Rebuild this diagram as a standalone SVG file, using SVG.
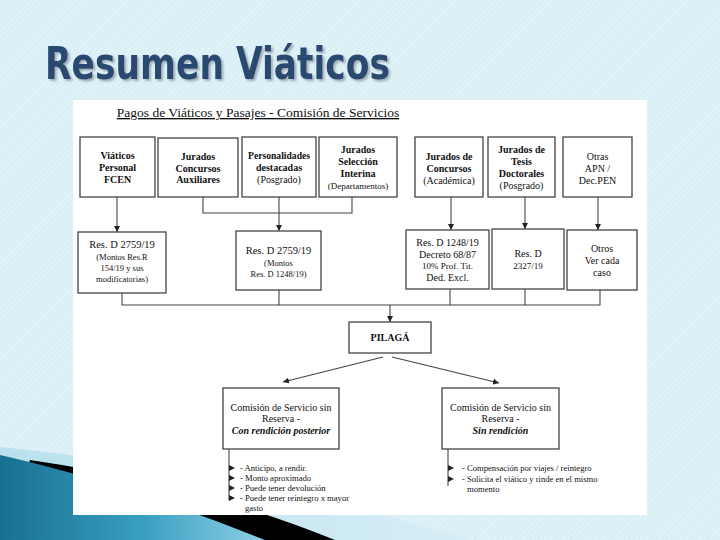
<svg xmlns="http://www.w3.org/2000/svg" width="720" height="540" viewBox="0 0 720 540">
<defs>
<pattern id="hatch" width="4" height="4" patternUnits="userSpaceOnUse" patternTransform="rotate(45)">
<rect width="4" height="4" fill="#def2f8"/>
<line x1="0" y1="0" x2="0" y2="4" stroke="#cfe9f2" stroke-width="1.2"/>
</pattern>
<linearGradient id="teal" x1="0" y1="0" x2="1" y2="0">
<stop offset="0" stop-color="#17708f"/>
<stop offset="0.55" stop-color="#3aa0c2"/>
<stop offset="1" stop-color="#8fd0e6"/>
</linearGradient>
<linearGradient id="pale" x1="0" y1="0" x2="1" y2="0">
<stop offset="0" stop-color="#b9e1ee"/>
<stop offset="1" stop-color="#d6eef6"/>
</linearGradient>
<filter id="shadow" x="-5%" y="-20%" width="115%" height="150%">
<feDropShadow dx="2" dy="2" stdDeviation="0.8" flood-color="#9aa8b2" flood-opacity="0.9"/>
</filter>
<marker id="ah" viewBox="0 0 10 10" refX="10" refY="5" markerWidth="6" markerHeight="6" orient="auto" markerUnits="userSpaceOnUse">
<path d="M0,0 L10,5 L0,10 Z" fill="#222"/>
</marker>
<path id="bul" d="M0,-3 L6,0 L0,3 Z" fill="#222"/>
<style>
.box{fill:#fff;stroke:#444;stroke-width:1.3}
.ln{fill:none;stroke:#444;stroke-width:1.1}
.t{font-family:"Liberation Serif","Times New Roman",serif;fill:#111;text-anchor:middle}
.b{font-weight:bold;font-size:10px}
.r{font-size:10px}
.s{font-size:9px}
.li{font-family:"Liberation Serif","Times New Roman",serif;fill:#111;font-size:8.6px}
</style>
</defs>

<rect width="720" height="540" fill="url(#hatch)"/>
<g id="swoosh">
<path d="M0,447 Q250,472 470,540 L0,540 Z" fill="url(#pale)"/>
<path d="M30,460 Q200,485 335,540 L0,540 Z" fill="#000"/>
<path d="M0,455 Q120,482 265,540 L0,540 Z" fill="url(#teal)"/>
</g>

<g id="title">
<text x="45" y="79" font-family="'DejaVu Sans Condensed','DejaVu Sans',sans-serif" font-weight="bold" font-size="44" fill="#2b4a70" textLength="345" lengthAdjust="spacingAndGlyphs" filter="url(#shadow)">Resumen Viáticos</text>
</g>

<rect id="panel" x="73" y="100" width="574" height="415" fill="#fff"/>

<g id="subtitle">
<text x="258" y="117" class="t" font-size="13.5" text-decoration="underline">Pagos de Viáticos y Pasajes - Comisión de Servicios</text>
</g>

<g id="connectors">
<line class="ln" x1="117" y1="197" x2="117" y2="232" marker-end="url(#ah)"/>
<path class="ln" d="M203,197 V213 H352 V197 M279,197 V213"/>
<line class="ln" x1="279" y1="213" x2="279" y2="231" marker-end="url(#ah)"/>
<line class="ln" x1="451" y1="197" x2="451" y2="230" marker-end="url(#ah)"/>
<line class="ln" x1="525" y1="197" x2="525" y2="229" marker-end="url(#ah)"/>
<line class="ln" x1="598" y1="197" x2="598" y2="230" marker-end="url(#ah)"/>
<path class="ln" d="M122,293 V305 H600 V290 M279,290 V305 M450,289 V305 M525,289 V305"/>
<line class="ln" x1="390" y1="305" x2="390" y2="322" marker-end="url(#ah)"/>
<line class="ln" x1="383" y1="357" x2="283" y2="382" marker-end="url(#ah)"/>
<line class="ln" x1="392" y1="357" x2="499" y2="383" marker-end="url(#ah)"/>
<line class="ln" x1="229" y1="449" x2="229" y2="500"/>
<line class="ln" x1="448" y1="449" x2="448" y2="486"/>
</g>

<g id="n-viaticos-fcen">
<rect class="box" x="80" y="137" width="75" height="60"/>
<text class="t b" x="117.5" y="159">Viáticos</text>
<text class="t b" x="117.5" y="171">Personal</text>
<text class="t b" x="117.5" y="183">FCEN</text>
</g>
<g id="n-jurados-aux">
<rect class="box" x="158" y="138" width="80" height="59"/>
<text class="t b" x="198" y="160">Jurados</text>
<text class="t b" x="198" y="172">Concursos</text>
<text class="t b" x="198" y="183">Auxiliares</text>
</g>
<g id="n-personalidades">
<rect class="box" x="242" y="137" width="74" height="60"/>
<text class="t b" x="279" y="159" font-size="9.5" textLength="62" lengthAdjust="spacingAndGlyphs">Personalidades</text>
<text class="t b" x="279" y="171">destacadas</text>
<text class="t r" x="279" y="183">(Posgrado)</text>
</g>
<g id="n-jurados-seleccion">
<rect class="box" x="319" y="137" width="78" height="60"/>
<text class="t b" x="358" y="153">Jurados</text>
<text class="t b" x="358" y="165">Selección</text>
<text class="t b" x="358" y="177">Interina</text>
<text class="t s" x="358" y="189">(Departamentos)</text>
</g>
<g id="n-jurados-concursos">
<rect class="box" x="415" y="137" width="68" height="60"/>
<text class="t b" x="449" y="160">Jurados de</text>
<text class="t b" x="449" y="172">Concursos</text>
<text class="t r" x="449" y="184">(Académica)</text>
</g>
<g id="n-jurados-tesis">
<rect class="box" x="488" y="137" width="67" height="60"/>
<text class="t b" x="521.5" y="153">Jurados de</text>
<text class="t b" x="521.5" y="165">Tesis</text>
<text class="t b" x="521.5" y="177">Doctorales</text>
<text class="t r" x="521.5" y="189">(Posgrado)</text>
</g>
<g id="n-otras-apn">
<rect class="box" x="563" y="137" width="69" height="60"/>
<text class="t r" x="597.5" y="160">Otras</text>
<text class="t r" x="597.5" y="172">APN /</text>
<text class="t r" x="597.5" y="184">Dec.PEN</text>
</g>

<g id="n-res-a">
<rect class="box" x="78" y="232" width="88" height="61"/>
<text class="t" x="122" y="248" font-size="10.5">Res. D 2759/19</text>
<text class="t" x="122" y="260" font-size="8.5">(Montos Res.R</text>
<text class="t" x="122" y="271" font-size="8.5">154/19 y sus</text>
<text class="t" x="122" y="282" font-size="8.5">modificatorias)</text>
</g>
<g id="n-res-b">
<rect class="box" x="236" y="231" width="85" height="59"/>
<text class="t" x="278.5" y="254" font-size="10.5">Res. D 2759/19</text>
<text class="t" x="278.5" y="266" font-size="8.5">(Montos</text>
<text class="t" x="278.5" y="277" font-size="8.5">Res. D 1248/19)</text>
</g>
<g id="n-res-c">
<rect class="box" x="406" y="230" width="83" height="59"/>
<text class="t r" x="447.5" y="246">Res. D 1248/19</text>
<text class="t r" x="447.5" y="258">Decreto 68/87</text>
<text class="t" x="447.5" y="269" font-size="9">10% Prof. Tit.</text>
<text class="t r" x="447.5" y="281">Ded. Excl.</text>
</g>
<g id="n-res-d">
<rect class="box" x="492" y="229" width="72" height="60"/>
<text class="t r" x="528" y="257">Res. D</text>
<text class="t" x="528" y="269" font-size="9">2327/19</text>
</g>
<g id="n-otros">
<rect class="box" x="567" y="230" width="70" height="60"/>
<text class="t r" x="602" y="252">Otros</text>
<text class="t r" x="602" y="264">Ver cada</text>
<text class="t r" x="602" y="276">caso</text>
</g>

<g id="n-pilaga">
<rect class="box" x="349" y="322" width="82" height="31"/>
<text class="t b" x="390" y="341">PILAGÁ</text>
</g>

<g id="n-con-rendicion">
<rect class="box" x="223" y="388" width="116" height="61"/>
<text class="t r" x="281" y="411">Comisión de Servicio sin</text>
<text class="t r" x="281" y="422">Reserva -</text>
<text class="t b" x="281" y="434" font-style="italic">Con rendición posterior</text>
</g>
<g id="n-sin-rendicion">
<rect class="box" x="442" y="388" width="117" height="61"/>
<text class="t r" x="500.5" y="411">Comisión de Servicio sin</text>
<text class="t r" x="500.5" y="422">Reserva -</text>
<text class="t b" x="500.5" y="434" font-style="italic">Sin rendición</text>
</g>

<g id="list-con">
<use href="#bul" x="229" y="468"/>
<use href="#bul" x="229" y="478"/>
<use href="#bul" x="229" y="488"/>
<use href="#bul" x="229" y="498"/>
<text class="li" x="240" y="471">- Anticipo, a rendir.</text>
<text class="li" x="240" y="481">- Monto aproximado</text>
<text class="li" x="240" y="491">- Puede tener devolución</text>
<text class="li" x="240" y="501">- Puede tener reintegro x mayor</text>
<text class="li" x="245" y="511">gasto</text>
</g>
<g id="list-sin">
<use href="#bul" x="448" y="468"/>
<use href="#bul" x="448" y="479"/>
<text class="li" x="462" y="471">- Compensación por viajes / reintegro</text>
<text class="li" x="462" y="482">- Solicita el viático y rinde en el mismo</text>
<text class="li" x="467" y="492">momento</text>
</g>
</svg>
